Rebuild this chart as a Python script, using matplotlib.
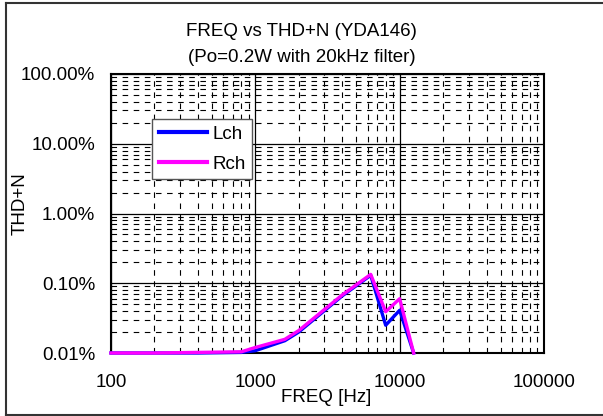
import matplotlib
matplotlib.use("Agg")
import matplotlib.pyplot as plt
from matplotlib.lines import Line2D
from matplotlib.ticker import FixedLocator, NullFormatter

freq = [100, 200, 400, 800, 1000, 1600, 2000, 4000, 6300, 8000, 10000, 12500]
lch = [0.010, 0.010, 0.010, 0.0102, 0.0108, 0.0150, 0.020, 0.066, 0.130, 0.025, 0.041, 0.010]
rch = [0.010, 0.010, 0.0102, 0.0104, 0.0120, 0.0157, 0.021, 0.068, 0.134, 0.039, 0.060, 0.010]
xticks = [100, 1000, 10000, 100000]
xticklabels = ["100", "1000", "10000", "100000"]
yticks = [0.01, 0.1, 1, 10, 100]
yticklabels = ["0.01%", "0.10%", "1.00%", "10.00%", "100.00%"]

plt.rcParams['font.family'] = ['Liberation Sans', 'DejaVu Sans']
FS = 13.5
fig = plt.figure(figsize=(6.03, 4.16), dpi=100)
ax = fig.add_axes([111/603, 1-353/416, (544-111)/603, (353-74)/416])

ax.set_xscale('log')
ax.set_yscale('log')
ax.set_xlim(100, 100000)
ax.set_ylim(0.01, 100)

minor_x = [m * 10**e for e in range(2, 5) for m in range(2, 10)]
minor_y = [m * 10**e for e in range(-2, 2) for m in range(2, 10)]
ax.xaxis.set_minor_locator(FixedLocator(minor_x))
ax.yaxis.set_minor_locator(FixedLocator(minor_y))
ax.xaxis.set_minor_formatter(NullFormatter())
ax.yaxis.set_minor_formatter(NullFormatter())
ax.set_xticks(xticks)
ax.set_xticklabels(xticklabels)
ax.set_yticks(yticks)
ax.set_yticklabels(yticklabels)

ax.grid(which='major', color='black', linewidth=0.9)
ax.grid(which='minor', color='black', linewidth=0.8, linestyle=(0, (5, 5)))
ax.set_axisbelow(True)
ax.tick_params(which='both', length=0)
ax.tick_params(axis='x', labelsize=FS, pad=15)
ax.tick_params(axis='y', labelsize=FS, pad=11.5)
for s in ax.spines.values():
    s.set_linewidth(1.5)

ax.plot(freq, lch, color='#0000FF', linewidth=2.4, label='Lch', clip_on=False, zorder=3)
ax.plot(freq, rch, color='#FF00FF', linewidth=2.4, label='Rch', clip_on=False, zorder=4)

leg = ax.legend(loc='upper left', bbox_to_anchor=((152-111)/433, (353-119)/279),
                fontsize=FS, frameon=True, fancybox=False, edgecolor='#555555',
                borderpad=0.35, handlelength=2.6, labelspacing=0.68, handletextpad=0.25,
                borderaxespad=0, framealpha=1)
leg.get_frame().set_linewidth(1.0)
for h in leg.get_lines():
    h.set_linewidth(3.0)

fig.text(0.5, 1-31/416, "FREQ vs THD+N (YDA146)", ha='center', va='center', fontsize=FS)
fig.text(0.5, 1-58/416, "(Po=0.2W with 20kHz filter)", ha='center', va='center', fontsize=FS)
fig.text(326/603, 1-398/416, "FREQ [Hz]", ha='center', va='center', fontsize=FS)
fig.text(20/603, 1-204/416, "THD+N", ha='center', va='center', fontsize=FS, rotation=90)

x0, y0, y1 = 6/603, 1-415/416, 1-2.5/416
for xs, ys in [([x0, x0], [y0, y1]), ([x0, 1], [y1, y1]), ([x0, 1], [y0, y0])]:
    fig.lines.append(Line2D(xs, ys, transform=fig.transFigure, color='#333333', linewidth=1.5))

fig.savefig("out.png", dpi=100)
